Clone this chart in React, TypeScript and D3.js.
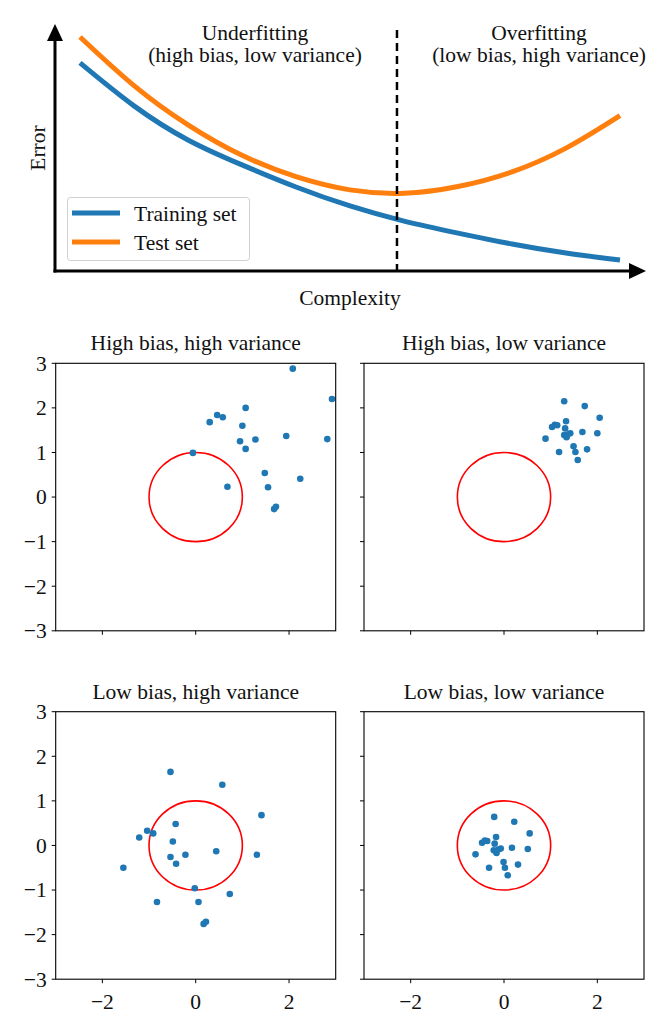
import React from 'react';
import * as d3 from 'd3';

// ---- Top chart data (bias-variance tradeoff curves) ----
const complexity = [0, 0.1, 0.2, 0.3, 0.4, 0.5, 0.6, 0.7, 0.8, 0.9, 1.0];
const trainingError = [0.867, 0.688, 0.546, 0.442, 0.35, 0.271, 0.208, 0.158, 0.1125, 0.075, 0.046];
const testError = [0.975, 0.7725, 0.609, 0.482, 0.393, 0.338, 0.324, 0.352, 0.413, 0.512, 0.6475];
const optimalComplexity = 0.587;
const seriesNames = ['Training set', 'Test set'];
const regionLabels = [
  ['Underfitting', '(high bias, low variance)'],
  ['Overfitting', '(low bias, high variance)'],
];

// ---- Scatter panels data ----
const panelTitles = [
  'High bias, high variance',
  'High bias, low variance',
  'Low bias, high variance',
  'Low bias, low variance',
];
const hbhvX = [2.08, 2.92, 0.30, 0.46, 0.58, 1.07, 1.0, 0.95, 1.07, 1.28, 1.94, 2.82, -0.06, 0.68, 1.48, 1.55, 2.24, 1.68, 1.72];
const hbhvY = [2.88, 2.20, 1.68, 1.84, 1.79, 2.0, 1.60, 1.25, 1.08, 1.29, 1.37, 1.30, 0.99, 0.23, 0.54, 0.22, 0.41, -0.27, -0.22];
const hblvX = [1.29, 1.73, 2.05, 1.33, 1.03, 1.09, 1.14, 1.31, 1.42, 1.29, 1.34, 1.68, 2.00, 0.89, 1.18, 1.49, 1.53, 1.78, 1.58, 1.36];
const hblvY = [2.15, 2.04, 1.78, 1.70, 1.57, 1.62, 1.61, 1.54, 1.43, 1.39, 1.34, 1.46, 1.43, 1.31, 1.01, 1.14, 1.01, 1.07, 0.83, 1.40];
const lbhvX = [-0.54, 0.57, 1.41, -0.43, -1.04, -0.91, -1.21, -0.49, 0.44, 1.31, -0.54, -0.22, -0.42, -1.55, -0.02, 0.73, -0.83, 0.06, 0.17, 0.22];
const lbhvY = [1.65, 1.36, 0.68, 0.48, 0.33, 0.27, 0.18, 0.09, -0.13, -0.21, -0.26, -0.21, -0.41, -0.50, -0.96, -1.09, -1.27, -1.27, -1.76, -1.71];
const lblvX = [-0.21, 0.22, 0.55, -0.17, -0.47, -0.41, -0.36, -0.20, -0.07, -0.22, -0.16, 0.17, 0.51, -0.61, -0.01, 0.30, -0.32, 0.02, 0.08, -0.12];
const lblvY = [0.64, 0.53, 0.27, 0.19, 0.06, 0.11, 0.10, 0.04, -0.07, -0.11, -0.17, -0.05, -0.08, -0.20, -0.37, -0.43, -0.50, -0.50, -0.67, -0.09];
const panelXs = [hbhvX, hblvX, lbhvX, lblvX];
const panelYs = [hbhvY, hblvY, lbhvY, lblvY];
const yTicks = [-3, -2, -1, 0, 1, 2, 3];
const xTicks = [-2, 0, 2];
const targetRadius = 1;

const BLUE = '#1f77b4';
const ORANGE = '#ff7f0e';
const FONT = '"Liberation Serif", "DejaVu Serif", serif';
const FS = 21.5;

const fmt = (v: number) => (v < 0 ? '\u2212' + Math.abs(v) : String(v));

function TopChart() {
  const axisLeft = 55;
  const axisBottom = 271;
  const x = d3.scaleLinear().domain([0, 1]).range([80, 620]);
  const y = d3.scaleLinear().domain([0, 1]).range([271, 31]);
  const line = d3
    .line<number>()
    .x((_, i) => x(complexity[i]))
    .y((d) => y(d))
    .curve(d3.curveNatural);
  const xd = x(optimalComplexity);
  return (
    <g>
      <path d={line(testError) || ''} fill="none" stroke={ORANGE} strokeWidth={5} />
      <path d={line(trainingError) || ''} fill="none" stroke={BLUE} strokeWidth={5} />
      <line x1={xd} x2={xd} y1={30} y2={axisBottom} stroke="black" strokeWidth={2.5} strokeDasharray="8,5" />
      {/* axes */}
      <line x1={axisLeft} x2={axisLeft} y1={axisBottom + 1.5} y2={38} stroke="black" strokeWidth={3} />
      <line x1={axisLeft - 1.5} x2={631} y1={axisBottom} y2={axisBottom} stroke="black" strokeWidth={3} />
      <path d={`M${axisLeft},24 L${axisLeft - 8},41 L${axisLeft + 8},41 Z`} fill="black" />
      <path d={`M646,${axisBottom} L629,${axisBottom - 8} L629,${axisBottom + 8} Z`} fill="black" />
      {/* region labels */}
      {[255, 539].map((cx, i) => (
        <text key={i} x={cx} textAnchor="middle" fontFamily={FONT} fontSize={FS} fill="#111">
          <tspan x={cx} y={40}>{regionLabels[i][0]}</tspan>
          <tspan x={cx} y={62}>{regionLabels[i][1]}</tspan>
        </text>
      ))}
      <text x={350} y={305} textAnchor="middle" fontFamily={FONT} fontSize={FS} fill="#111">Complexity</text>
      <text transform="translate(45,148) rotate(-90)" textAnchor="middle" fontFamily={FONT} fontSize={FS} fill="#111">Error</text>
      {/* legend */}
      <rect x={67.5} y={197.5} width={182} height={63} rx={3} fill="white" fillOpacity={0.8} stroke="#d0d0d0" strokeWidth={1} />
      {seriesNames.map((name, i) => (
        <g key={name}>
          <line x1={72} x2={120} y1={213 + i * 29} y2={213 + i * 29} stroke={i === 0 ? BLUE : ORANGE} strokeWidth={5} />
          <text x={134} y={220.5 + i * 29} fontFamily={FONT} fontSize={FS} fill="#111">{name}</text>
        </g>
      ))}
    </g>
  );
}

function Panel({ idx, left, top, width, height, showX, showY }: any) {
  const x = d3.scaleLinear().domain([-3, 3]).range([left, left + width]);
  const y = d3.scaleLinear().domain([-3, 3]).range([top + height, top]);
  const xs = panelXs[idx];
  const ys = panelYs[idx];
  const clipId = `clip${idx}`;
  return (
    <g>
      <clipPath id={clipId}>
        <rect x={left} y={top} width={width} height={height} />
      </clipPath>
      <g clipPath={`url(#${clipId})`}>
        <ellipse
          cx={x(0)}
          cy={y(0)}
          rx={x(targetRadius) - x(0)}
          ry={y(0) - y(targetRadius)}
          fill="none"
          stroke="red"
          strokeWidth={1.6}
        />
        {xs.map((v: number, i: number) => (
          <circle key={i} cx={x(v)} cy={y(ys[i])} r={3.3} fill={BLUE} />
        ))}
      </g>
      <rect x={left} y={top} width={width} height={height} fill="none" stroke="black" strokeWidth={1.1} />
      {yTicks.map((t) => (
        <g key={'y' + t}>
          <line x1={left - 4} x2={left} y1={y(t)} y2={y(t)} stroke="black" strokeWidth={1} />
          {showY && (
            <text x={left - 9} y={y(t)} dy="0.34em" textAnchor="end" fontFamily={FONT} fontSize={FS} fill="#111">
              {fmt(t)}
            </text>
          )}
        </g>
      ))}
      {xTicks.map((t) => (
        <g key={'x' + t}>
          <line x1={x(t)} x2={x(t)} y1={top + height} y2={top + height + 4} stroke="black" strokeWidth={1} />
          {showX && (
            <text x={x(t)} y={top + height + 30} textAnchor="middle" fontFamily={FONT} fontSize={FS} fill="#111">
              {fmt(t)}
            </text>
          )}
        </g>
      ))}
      <text x={left + width / 2} y={top - 13} textAnchor="middle" fontFamily={FONT} fontSize={FS} fill="#111">
        {panelTitles[idx]}
      </text>
    </g>
  );
}

export default function App() {
  const lefts = [55.7, 364];
  const tops = [363.3, 711.7];
  const w = 280;
  const h = 267.5;
  return (
    <svg
      width={664}
      height={1027}
      viewBox="0 0 664 1027"
      style={{ position: 'absolute', left: 0, top: 0, background: 'white' }}
    >
      <rect width={664} height={1027} fill="white" />
      <TopChart />
      {[0, 1, 2, 3].map((i) => (
        <Panel
          key={i}
          idx={i}
          left={lefts[i % 2]}
          top={tops[Math.floor(i / 2)]}
          width={w}
          height={h}
          showX={i >= 2}
          showY={i % 2 === 0}
        />
      ))}
    </svg>
  );
}
